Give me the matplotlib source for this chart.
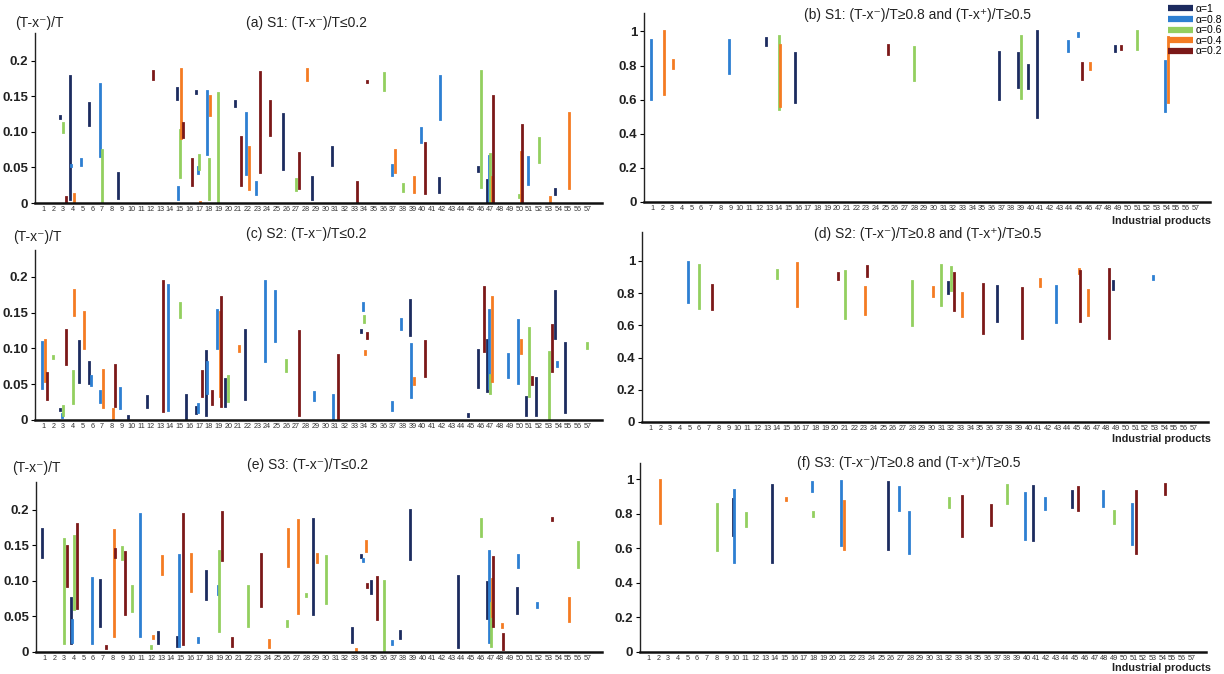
import matplotlib
matplotlib.use("Agg")
import matplotlib.pyplot as plt
from matplotlib.lines import Line2D

plt.rcParams['font.family'] = ['Liberation Sans', 'DejaVu Sans']

PRODUCTS = list(range(1, 58))
ALPHAS = [1, 0.8, 0.6, 0.4, 0.2]
ALPHA_LABELS = ['α=1', 'α=0.8', 'α=0.6', 'α=0.4', 'α=0.2']
ALPHA_COLORS = {1: '#1c2b5f', 0.8: '#2d7fd2', 0.6: '#93cf5f', 0.4: '#f47b22', 0.2: '#7b1818'}
ALPHA_SHIFT = {1: -0.32, 0.8: -0.16, 0.6: 0.0, 0.4: 0.14, 0.2: 0.30}

LOW_TICKS = [0, 0.05, 0.10, 0.15, 0.2]
LOW_TICK_LABELS = ['0', '0.05', '0.10', '0.15', '0.2']
HIGH_TICKS = [0, 0.2, 0.4, 0.6, 0.8, 1]
HIGH_TICK_LABELS = ['0', '0.2', '0.4', '0.6', '0.8', '1']

# rows: (product, alpha, lower bound, upper bound)
S1_LOW = [
    (3, 1, 0.120, 0.122), (4, 1, 0.006, 0.178), (6, 1, 0.109, 0.141), (9, 1, 0.007, 0.042),
    (15, 1, 0.146, 0.162), (17, 1, 0.155, 0.157), (21, 1, 0.136, 0.143), (26, 1, 0.048, 0.125),
    (29, 1, 0.006, 0.037), (31, 1, 0.053, 0.079), (42, 1, 0.015, 0.035), (46, 1, 0.045, 0.050),
    (47, 1, 0.0, 0.032), (54, 1, 0.013, 0.020),
    (4, 0.8, 0.052, 0.054), (5, 0.8, 0.053, 0.062), (7, 0.8, 0.066, 0.167), (15, 0.8, 0.006, 0.022),
    (17, 0.8, 0.042, 0.050), (18, 0.8, 0.069, 0.157), (22, 0.8, 0.041, 0.126), (23, 0.8, 0.013, 0.030),
    (37, 0.8, 0.040, 0.054), (40, 0.8, 0.086, 0.105), (42, 0.8, 0.118, 0.178), (47, 0.8, 0.0, 0.066),
    (51, 0.8, 0.027, 0.064),
    (3, 0.6, 0.100, 0.112), (7, 0.6, 0.0, 0.074), (15, 0.6, 0.037, 0.103), (17, 0.6, 0.048, 0.068),
    (18, 0.6, 0.006, 0.062), (19, 0.6, 0.002, 0.154), (27, 0.6, 0.018, 0.034), (36, 0.6, 0.159, 0.183),
    (38, 0.6, 0.017, 0.027), (46, 0.6, 0.023, 0.185), (47, 0.6, 0.0, 0.069), (50, 0.6, 0.009, 0.011),
    (52, 0.6, 0.057, 0.092),
    (4, 0.4, 0.0, 0.013), (15, 0.4, 0.091, 0.188), (17, 0.4, 0.0, 0.002), (18, 0.4, 0.124, 0.151),
    (22, 0.4, 0.019, 0.079), (28, 0.4, 0.173, 0.188), (37, 0.4, 0.043, 0.074), (39, 0.4, 0.015, 0.037),
    (47, 0.4, 0.0, 0.037), (50, 0.4, 0.0, 0.072), (53, 0.4, 0.0, 0.008), (55, 0.4, 0.021, 0.126),
    (3, 0.2, 0.002, 0.008), (12, 0.2, 0.174, 0.186), (15, 0.2, 0.093, 0.112), (16, 0.2, 0.025, 0.062),
    (21, 0.2, 0.026, 0.093), (23, 0.2, 0.044, 0.184), (24, 0.2, 0.096, 0.144), (27, 0.2, 0.021, 0.070),
    (33, 0.2, 0.0, 0.029), (34, 0.2, 0.170, 0.172), (40, 0.2, 0.014, 0.084), (47, 0.2, 0.0, 0.151),
    (50, 0.2, 0.0, 0.110),
]

S1_HIGH = [
    (13, 1, 0.918, 0.960), (16, 1, 0.584, 0.873), (37, 1, 0.604, 0.882), (39, 1, 0.673, 0.876),
    (40, 1, 0.667, 0.804), (41, 1, 0.500, 1.000), (49, 1, 0.886, 0.912),
    (1, 0.8, 0.602, 0.951), (9, 0.8, 0.759, 0.951), (44, 0.8, 0.886, 0.945), (45, 0.8, 0.976, 0.990),
    (54, 0.8, 0.535, 0.824),
    (14, 0.6, 0.543, 0.976), (28, 0.6, 0.716, 0.908), (39, 0.6, 0.612, 0.975), (51, 0.6, 0.896, 1.000),
    (2, 0.4, 0.631, 1.000), (3, 0.4, 0.788, 0.833), (14, 0.4, 0.565, 0.922), (46, 0.4, 0.780, 0.814),
    (54, 0.4, 0.584, 0.965),
    (25, 0.2, 0.869, 0.918), (45, 0.2, 0.722, 0.814), (49, 0.2, 0.896, 0.916),
]

S2_LOW = [
    (3, 1, 0.014, 0.016), (5, 1, 0.053, 0.110), (6, 1, 0.052, 0.081), (10, 1, 0.003, 0.005),
    (12, 1, 0.018, 0.034), (16, 1, 0.0, 0.035), (17, 1, 0.010, 0.018), (18, 1, 0.007, 0.097),
    (20, 1, 0.020, 0.057), (22, 1, 0.030, 0.125), (34, 1, 0.123, 0.125), (39, 1, 0.118, 0.168),
    (45, 1, 0.005, 0.009), (46, 1, 0.046, 0.098), (47, 1, 0.040, 0.111), (51, 1, 0.007, 0.032),
    (52, 1, 0.007, 0.058), (54, 1, 0.115, 0.180), (55, 1, 0.011, 0.107),
    (1, 0.8, 0.045, 0.109), (3, 0.8, 0.004, 0.008), (6, 0.8, 0.049, 0.061), (7, 0.8, 0.025, 0.041),
    (9, 0.8, 0.017, 0.044), (14, 0.8, 0.014, 0.188), (17, 0.8, 0.011, 0.023), (18, 0.8, 0.037, 0.081),
    (19, 0.8, 0.101, 0.153), (24, 0.8, 0.083, 0.194), (25, 0.8, 0.110, 0.180), (29, 0.8, 0.028, 0.039),
    (31, 0.8, 0.0, 0.035), (34, 0.8, 0.153, 0.163), (37, 0.8, 0.014, 0.025), (38, 0.8, 0.127, 0.141),
    (39, 0.8, 0.032, 0.106), (47, 0.8, 0.044, 0.153), (49, 0.8, 0.060, 0.092), (50, 0.8, 0.052, 0.140),
    (54, 0.8, 0.076, 0.081),
    (2, 0.6, 0.087, 0.090), (3, 0.6, 0.007, 0.020), (4, 0.6, 0.024, 0.069), (15, 0.6, 0.144, 0.163),
    (20, 0.6, 0.026, 0.062), (26, 0.6, 0.068, 0.084), (34, 0.6, 0.137, 0.145), (47, 0.6, 0.037, 0.063),
    (51, 0.6, 0.034, 0.128), (53, 0.6, 0.002, 0.095), (57, 0.6, 0.101, 0.108),
    (1, 0.4, 0.054, 0.111), (4, 0.4, 0.147, 0.181), (5, 0.4, 0.100, 0.151), (7, 0.4, 0.018, 0.070),
    (8, 0.4, 0.0, 0.016), (19, 0.4, 0.034, 0.151), (21, 0.4, 0.097, 0.103), (34, 0.4, 0.092, 0.097),
    (39, 0.4, 0.050, 0.058), (47, 0.4, 0.054, 0.171), (50, 0.4, 0.094, 0.111),
    (1, 0.2, 0.030, 0.066), (3, 0.2, 0.078, 0.126), (8, 0.2, 0.020, 0.077), (13, 0.2, 0.012, 0.194),
    (17, 0.2, 0.034, 0.069), (18, 0.2, 0.023, 0.040), (19, 0.2, 0.019, 0.171), (27, 0.2, 0.007, 0.124),
    (31, 0.2, 0.0, 0.091), (34, 0.2, 0.115, 0.122), (40, 0.2, 0.061, 0.110), (46, 0.2, 0.097, 0.185),
    (51, 0.2, 0.050, 0.060), (53, 0.2, 0.069, 0.132),
]

S2_HIGH = [
    (32, 1, 0.801, 0.870), (37, 1, 0.625, 0.843), (49, 1, 0.824, 0.874),
    (5, 0.8, 0.745, 0.994), (43, 0.8, 0.621, 0.845), (53, 0.8, 0.886, 0.905),
    (6, 0.6, 0.710, 0.977), (14, 0.6, 0.896, 0.942), (21, 0.6, 0.648, 0.938), (28, 0.6, 0.605, 0.876),
    (31, 0.6, 0.729, 0.973), (32, 0.6, 0.818, 0.963),
    (16, 0.4, 0.718, 0.988), (23, 0.4, 0.673, 0.839), (30, 0.4, 0.781, 0.839), (33, 0.4, 0.658, 0.801),
    (41, 0.4, 0.843, 0.890), (45, 0.4, 0.928, 0.952), (46, 0.4, 0.667, 0.818),
    (7, 0.2, 0.700, 0.853), (20, 0.2, 0.886, 0.925), (23, 0.2, 0.905, 0.969), (32, 0.2, 0.694, 0.925),
    (35, 0.2, 0.553, 0.859), (39, 0.2, 0.524, 0.832), (45, 0.2, 0.625, 0.936), (48, 0.2, 0.524, 0.952),
]

S3_LOW = [
    (1, 1, 0.133, 0.172), (4, 1, 0.012, 0.076), (7, 1, 0.037, 0.101), (13, 1, 0.012, 0.028),
    (15, 1, 0.008, 0.021), (18, 1, 0.075, 0.114), (29, 1, 0.053, 0.187), (33, 1, 0.014, 0.033),
    (34, 1, 0.134, 0.136), (35, 1, 0.083, 0.100), (38, 1, 0.019, 0.029), (39, 1, 0.131, 0.199),
    (44, 1, 0.007, 0.107), (47, 1, 0.048, 0.098), (50, 1, 0.055, 0.090),
    (4, 0.8, 0.014, 0.045), (6, 0.8, 0.012, 0.104), (11, 0.8, 0.023, 0.193), (15, 0.8, 0.009, 0.136),
    (17, 0.8, 0.014, 0.020), (19, 0.8, 0.081, 0.092), (34, 0.8, 0.128, 0.130), (37, 0.8, 0.011, 0.015),
    (47, 0.8, 0.014, 0.142), (50, 0.8, 0.119, 0.136), (52, 0.8, 0.063, 0.069),
    (3, 0.6, 0.013, 0.159), (4, 0.6, 0.060, 0.163), (9, 0.6, 0.131, 0.148), (10, 0.6, 0.058, 0.093),
    (12, 0.6, 0.005, 0.008), (19, 0.6, 0.030, 0.142), (22, 0.6, 0.037, 0.093), (26, 0.6, 0.036, 0.043),
    (28, 0.6, 0.078, 0.081), (30, 0.6, 0.069, 0.135), (36, 0.6, 0.0, 0.099), (46, 0.6, 0.163, 0.187),
    (47, 0.6, 0.008, 0.069), (56, 0.6, 0.120, 0.155),
    (8, 0.4, 0.023, 0.171), (12, 0.4, 0.020, 0.023), (13, 0.4, 0.110, 0.135), (16, 0.4, 0.085, 0.138),
    (24, 0.4, 0.007, 0.017), (26, 0.4, 0.121, 0.173), (27, 0.4, 0.055, 0.185), (29, 0.4, 0.126, 0.138),
    (33, 0.4, 0.0, 0.004), (34, 0.4, 0.142, 0.156), (47, 0.4, 0.051, 0.102), (48, 0.4, 0.035, 0.040),
    (55, 0.4, 0.043, 0.076),
    (3, 0.2, 0.093, 0.149), (4, 0.2, 0.062, 0.179), (7, 0.2, 0.006, 0.009), (8, 0.2, 0.133, 0.144),
    (9, 0.2, 0.054, 0.140), (15, 0.2, 0.011, 0.194), (19, 0.2, 0.129, 0.197), (20, 0.2, 0.008, 0.019),
    (23, 0.2, 0.065, 0.138), (34, 0.2, 0.091, 0.096), (35, 0.2, 0.047, 0.105), (47, 0.2, 0.036, 0.134),
    (48, 0.2, 0.004, 0.025), (53, 0.2, 0.185, 0.188),
]

S3_HIGH = [
    (10, 1, 0.674, 0.884), (14, 1, 0.519, 0.963), (26, 1, 0.597, 0.986), (41, 1, 0.649, 0.958),
    (45, 1, 0.838, 0.932),
    (10, 0.8, 0.523, 0.938), (18, 0.8, 0.929, 0.983), (21, 0.8, 0.620, 0.990), (27, 0.8, 0.819, 0.954),
    (28, 0.8, 0.575, 0.809), (40, 0.8, 0.654, 0.919), (42, 0.8, 0.828, 0.890), (48, 0.8, 0.847, 0.929),
    (51, 0.8, 0.625, 0.855),
    (8, 0.6, 0.587, 0.855), (11, 0.6, 0.726, 0.803), (18, 0.6, 0.788, 0.809), (32, 0.6, 0.836, 0.890),
    (38, 0.6, 0.861, 0.967), (49, 0.6, 0.745, 0.813),
    (2, 0.4, 0.745, 0.992), (15, 0.4, 0.880, 0.890), (21, 0.4, 0.597, 0.875),
    (33, 0.2, 0.672, 0.905), (36, 0.2, 0.732, 0.851), (45, 0.2, 0.819, 0.954), (51, 0.2, 0.571, 0.929),
    (54, 0.2, 0.913, 0.973),
]

W, H = 1224, 674
fig = plt.figure(figsize=(W / 100, H / 100), dpi=100)


def px_axes(left, top, right, bottom):
    return fig.add_axes([left / W, 1 - bottom / H, (right - left) / W, (bottom - top) / H])


def fig_text(x, y, s, **kw):
    fig.text(x / W, 1 - y / H, s, **kw)


LOW_TITLE = ': (T-x⁻)/T≤0.2'
HIGH_TITLE = ': (T-x⁻)/T≥0.8 and (T-x⁺)/T≥0.5'

panels = [
    # data, (left, top, right, bottom) px, ymax, title, title xy, low-gap panel
    (S1_LOW, (35, 33, 602, 203), 0.239, '(a) S1' + LOW_TITLE, (306, 23), True),
    (S1_HIGH, (644, 13, 1210, 202), 1.108, '(b) S1' + HIGH_TITLE, (918, 15), False),
    (S2_LOW, (35, 250, 602, 420), 0.2373, '(c) S2' + LOW_TITLE, (306, 234), True),
    (S2_HIGH, (642, 232, 1208, 422), 1.18, '(d) S2' + HIGH_TITLE, (928, 234), False),
    (S3_LOW, (36, 482, 602, 652), 0.2386, '(e) S3' + LOW_TITLE, (308, 465), True),
    (S3_HIGH, (640, 463, 1206, 652), 1.093, '(f) S3' + HIGH_TITLE, (909, 463), False),
]

for rows, box, ymax, title, (tx, ty), is_low in panels:
    ax = px_axes(*box)
    for a in ALPHAS:
        sel = [r for r in rows if r[1] == a]
        if not sel:
            continue
        xs = [r[0] + ALPHA_SHIFT[a] for r in sel]
        lo = [r[2] for r in sel]
        hi = [r[3] for r in sel]
        lc = ax.vlines(xs, lo, hi, colors=ALPHA_COLORS[a], linewidth=2.0)
        lc.set_capstyle('projecting')
    ax.set_xlim(0.1, 58.5)
    ax.set_ylim(0, ymax)
    ax.set_xticks(PRODUCTS)
    ax.set_xticklabels([str(p) for p in PRODUCTS], fontsize=5.2, color='#333333')
    ax.tick_params(axis='x', length=0, pad=2)
    if is_low:
        ax.set_yticks(LOW_TICKS)
        ax.set_yticklabels(LOW_TICK_LABELS)
    else:
        ax.set_yticks(HIGH_TICKS)
        ax.set_yticklabels(HIGH_TICK_LABELS)
    ax.tick_params(axis='y', length=3, width=0.8, pad=2, labelsize=9.5, labelcolor='#222222')
    for lab in ax.get_yticklabels():
        lab.set_fontweight('bold')
    for side in ('top', 'right'):
        ax.spines[side].set_visible(False)
    ax.spines['left'].set_linewidth(1.0)
    ax.spines['left'].set_color('#222222')
    ax.spines['bottom'].set_linewidth(1.8)
    ax.spines['bottom'].set_color('#111111')
    fig_text(tx, ty, title, fontsize=10, ha='center', va='center', color='#222222')

# y-axis captions for the low-gap panels
for x, y in [(15, 23), (13, 237), (12, 468)]:
    fig_text(x, y, '(T-x⁻)/T', fontsize=10, ha='left', va='center', color='#222222')

# x-axis captions for the high-gap panels
for y in [221, 439, 668]:
    fig_text(1211, y, 'Industrial products', fontsize=7.8, fontweight='bold',
             ha='right', va='center', color='#222222')

handles = [Line2D([0], [0], color=ALPHA_COLORS[a], linewidth=4.5, solid_capstyle='butt')
           for a in ALPHAS]
fig.legend(handles, ALPHA_LABELS, loc='upper right', bbox_to_anchor=(1.0, 0.997),
           frameon=False, fontsize=7.5, handlelength=2.4, handletextpad=0.2,
           labelspacing=0.05, borderpad=0.1, borderaxespad=0.1)

fig.savefig('out.png', dpi=100, facecolor='white')
